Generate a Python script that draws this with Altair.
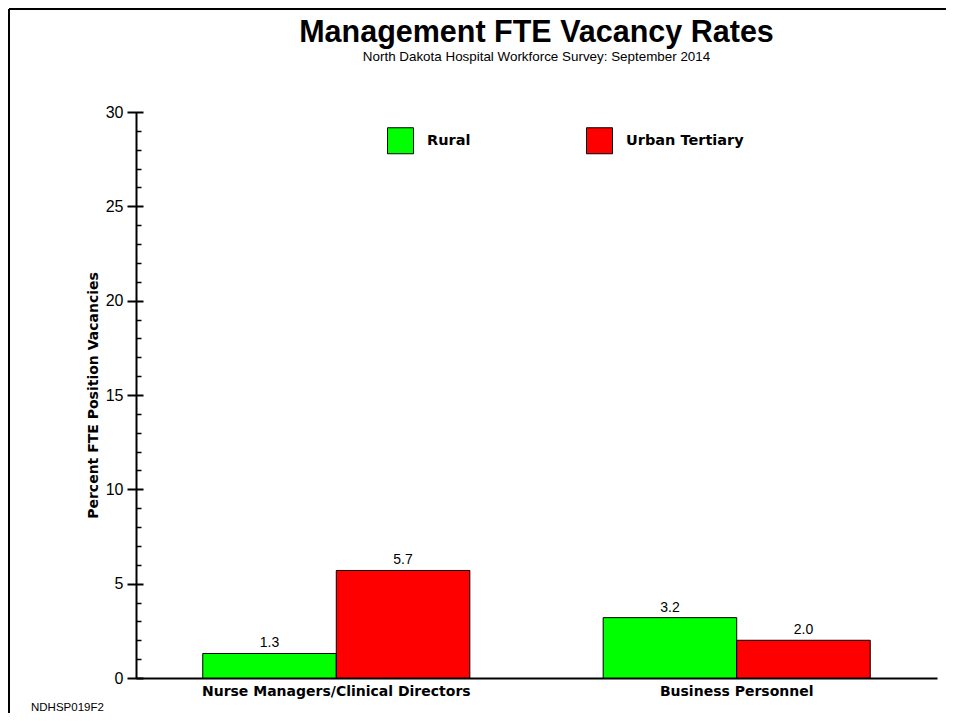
import altair as alt
import pandas as pd

categories = ["Nurse Managers/Clinical Directors", "Business Personnel"]
groups = ["Rural", "Urban Tertiary"]
rural = [1.3, 3.2]
urban = [5.7, 2.0]
colors = ["#00ff00", "#ff0000"]
major_ticks = [0, 5, 10, 15, 20, 25, 30]
minor_ticks = [v for v in range(0, 31) if v % 5 != 0]
title_text = "Management FTE Vacancy Rates"
subtitle_text = "North Dakota Hospital Workforce Survey: September 2014"
y_title = "Percent FTE Position Vacancies"
footnote = "NDHSP019F2"

rows = []
for i, c in enumerate(categories):
    rows.append({"category": c, "group": groups[0], "value": rural[i]})
    rows.append({"category": c, "group": groups[1], "value": urban[i]})
df = pd.DataFrame(rows)
dummy = pd.DataFrame({"k": [0]})

BOLD = "DejaVu Sans"
REG = "Liberation Sans"

x_enc = alt.X(
    "category:N",
    sort=categories,
    scale=alt.Scale(paddingInner=0.333, paddingOuter=0.1667),
    axis=alt.Axis(
        title=None, labelAngle=0, ticks=False, domain=True, domainWidth=2,
        domainColor="black", labelFont=BOLD, labelFontWeight="bold",
        labelFontSize=14, labelColor="black", labelPadding=6, labelLimit=400,
        grid=False,
    ),
)
xoff = alt.XOffset("group:N", sort=groups, scale=alt.Scale(paddingInner=0, paddingOuter=0))
yscale = alt.Scale(domain=[0, 30], nice=False)

bars = alt.Chart(df).mark_bar(stroke="black", strokeWidth=1).encode(
    x=x_enc,
    xOffset=xoff,
    y=alt.Y(
        "value:Q", scale=yscale,
        axis=alt.Axis(
            orient="left", values=major_ticks, offset=-7, tickSize=16, tickWidth=2,
            tickColor="black", domain=False, grid=False, labelFont=REG,
            labelFontSize=16, labelColor="black", labelPadding=4,
            title=y_title, titleFont=BOLD, titleFontWeight="bold", titleFontSize=14,
            titleColor="black", titlePadding=5,
        ),
    ),
    color=alt.Color(
        "group:N", sort=groups,
        scale=alt.Scale(domain=groups, range=colors),
        legend=alt.Legend(
            title=None, orient="none", legendX=251, legendY=15, direction="horizontal",
            symbolType="square", symbolSize=676, symbolStrokeColor="black",
            symbolStrokeWidth=1, symbolOpacity=1, labelFont=BOLD, labelFontWeight="bold",
            labelFontSize=14.5, labelColor="black", labelOffset=13, columnPadding=113,
            padding=0, labelLimit=300,
        ),
    ),
)

labels = alt.Chart(df).mark_text(
    dy=-6, baseline="alphabetic", font=REG, fontSize=14, color="black"
).encode(
    x=x_enc,
    xOffset=xoff,
    y=alt.Y(
        "value:Q", scale=yscale,
        axis=alt.Axis(
            orient="left", values=minor_ticks, offset=-5, tickSize=5, tickWidth=1.5,
            tickColor="black", domain=False, labels=False, grid=False, title=None,
        ),
    ),
    text=alt.Text("value:Q", format=".1f"),
)

axis_line = alt.Chart(df).mark_point(opacity=0).encode(
    x=x_enc,
    y=alt.Y(
        "value:Q", scale=yscale,
        axis=alt.Axis(
            orient="left", values=major_ticks, offset=0, ticks=False, labels=False,
            domain=True, domainWidth=2, domainColor="black", grid=False, title=None,
        ),
    ),
)

frame_top = alt.Chart(dummy).mark_rule(color="black", strokeWidth=2).encode(
    x=alt.value(-127), x2=alt.value(810), y=alt.value(-103)
)
frame_left = alt.Chart(dummy).mark_rule(color="black", strokeWidth=2).encode(
    x=alt.value(-127), y=alt.value(-103), y2=alt.value(601)
)
foot = alt.Chart(dummy).mark_text(
    align="left", baseline="middle", font=REG, fontSize=11.5, color="black"
).encode(x=alt.value(-105), y=alt.value(596), text=alt.value(footnote))

chart = (
    alt.layer(bars, labels, axis_line, frame_top, frame_left, foot)
    .resolve_scale(y="shared")
    .resolve_axis(y="independent")
    .properties(
        width=801,
        height=566,
        padding={"left": 128, "top": 104, "right": 9, "bottom": 35},
        autosize=alt.AutoSizeParams(type="none"),
        title=alt.TitleParams(
            text=title_text, subtitle=subtitle_text, anchor="middle", frame="group",
            font=REG, fontSize=30.5, fontWeight="bold", color="black",
            subtitleFont=REG, subtitleFontSize=13.4, subtitleColor="black",
            subtitlePadding=1, offset=-55,
        ),
        background="white",
    )
    .configure_view(stroke=None)
)

chart.save("out.html", embed_options={"renderer": "svg", "actions": False})
